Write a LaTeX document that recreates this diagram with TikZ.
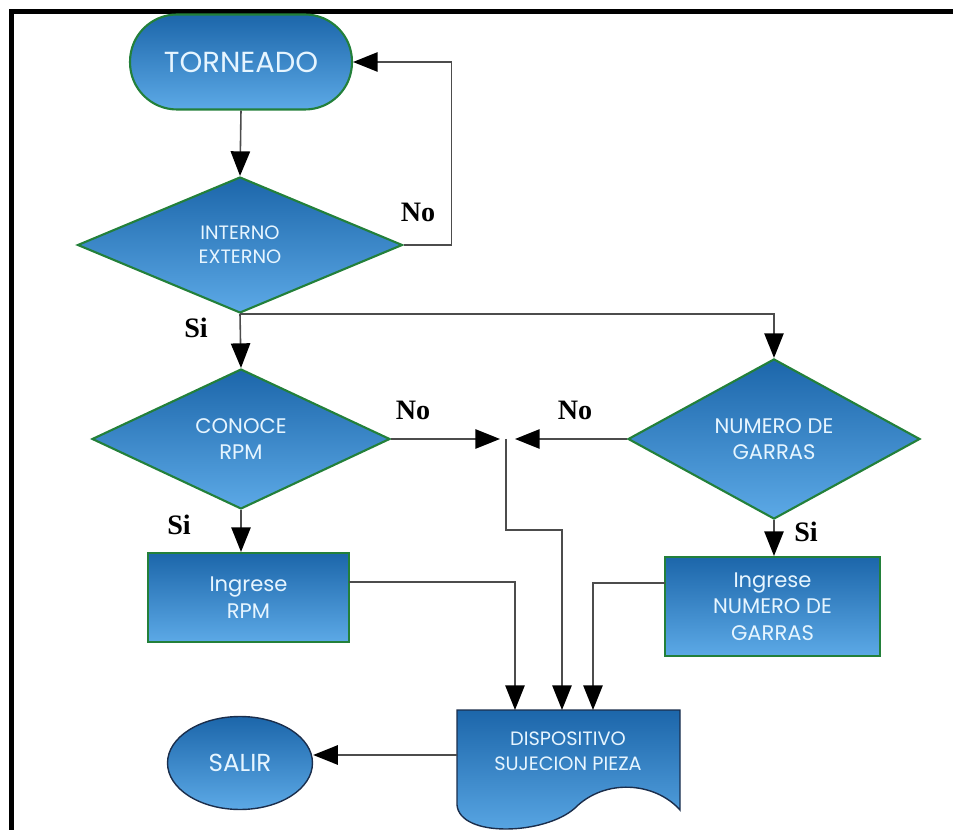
\documentclass[tikz,border=0pt]{standalone}
\usepackage{fontspec}
\usetikzlibrary{shapes.geometric,arrows.meta,calc}
\newfontfamily\shapefont{Poppins}
\newfontfamily\labelfont{Liberation Serif}
\definecolor{boxtop}{HTML}{1C66AA}
\definecolor{boxbot}{HTML}{5CA9E6}
\definecolor{edgegreen}{HTML}{23803A}
\definecolor{edgenavy}{HTML}{1B2E4C}
\definecolor{txt}{HTML}{E6F5FF}

\begin{document}
\begin{tikzpicture}[x=0.02cm,y=-0.02cm,
  shaded/.style={top color=boxtop,bottom color=boxbot,text=txt,align=center,inner sep=0pt,
    font=\shapefont\fontsize{12}{15}\selectfont},
  greenedge/.style={draw=edgegreen,line width=1.2pt},
  navyedge/.style={draw=edgenavy,line width=0.8pt},
  decision/.style={shaded,greenedge,diamond},
  process/.style={shaded,greenedge,rectangle},
  conn/.style={draw=black!70,line width=0.9pt},
  arr/.style={conn,-{Triangle[length=14pt,width=11pt,color=black]}},
  yesno/.style={font=\labelfont\bfseries\fontsize{16}{16}\selectfont,inner sep=0pt}
]
\useasboundingbox (0,0) rectangle (953,830);

% outer frame (left and top sides)
\draw[line width=3.4pt,line cap=rect] (11.5,835) -- (11.5,11.5) -- (960,11.5);

% shapes
\node[shaded,greenedge,rectangle,rounded corners=0.94cm,minimum width=4.44cm,minimum height=1.9cm,
      font=\shapefont\fontsize{16.5}{16.5}\selectfont] (torn) at (241,62) {TORNEADO};
\node[decision,minimum width=6.5cm,minimum height=2.72cm,font=\shapefont\fontsize{11}{13.5}\selectfont]
      (intx) at (240,245) {INTERNO\\EXTERNO};
\node[decision,minimum width=5.96cm,minimum height=2.8cm] (conoce) at (241,439) {CONOCE\\RPM};
\node[decision,minimum width=5.84cm,minimum height=2.76cm] (numero) at (774,439) {NUMERO DE\\GARRAS};
\node[process,minimum width=4.02cm,minimum height=1.78cm] (rpm) at (248.5,597.5) {Ingrese\\RPM};
\node[process,minimum width=4.3cm,minimum height=1.98cm] (numbox) at (772.5,606.5) {Ingrese\\NUMERO DE\\GARRAS};
\node[shaded,navyedge,ellipse,minimum width=2.9cm,minimum height=1.86cm,
      font=\shapefont\fontsize{14}{14}\selectfont] (salir) at (240,763) {SALIR};

% document symbol with wavy bottom
\draw[navyedge,top color=boxtop,bottom color=boxbot]
  (457,710) -- (680,710) -- (680,810)
  .. controls (655,782) and (605,778) .. (575,808)
  .. controls (545,835) and (460,838) .. (457,805) -- cycle;
\node[text=txt,align=center,inner sep=0pt,font=\shapefont\fontsize{11}{14}\selectfont]
  (doc) at (568,751) {DISPOSITIVO\\SUJECION PIEZA};

% connector end points
\coordinate (jl) at (500,439);
\coordinate (jr) at (515,439);
\coordinate (jc) at (506,439);
\coordinate (o1) at (349,582);
\coordinate (o3) at (665,583);
\coordinate (in1) at (515,710);
\coordinate (in2) at (562,710);
\coordinate (in3) at (593,710);
\coordinate (docl) at (457,755);

% connectors
\draw[arr] (torn.south) -- (intx.north);
\draw[arr] (intx.east) -- ++(48,0) |- (torn.east);
\draw[arr] (intx.south) -- (conoce.north);
\draw[arr] (intx.south) -| (numero.north);
\draw[arr] (conoce.east) -- (jl);
\draw[arr] (numero.west) -- (jr);
\draw[arr] (conoce.south) -- (conoce.south |- rpm.north);
\draw[arr] (numero.south) -- (numero.south |- numbox.north);
\draw[arr] (jc) -- ++(0,91) -| (in2);
\draw[arr] (o1) -| (in1);
\draw[arr] (o3) -| (in3);
\draw[arr] (docl) -- (docl -| salir.east);

% branch labels
\node[yesno] (no1) at (418,212) {No};
\node[yesno] (si1) at (196,328) {Si};
\node[yesno] (no2) at (413,410) {No};
\node[yesno] (no3) at (575,410) {No};
\node[yesno] (si2) at (179,525) {Si};
\node[yesno] (si3) at (806,532) {Si};
\end{tikzpicture}
\end{document}
